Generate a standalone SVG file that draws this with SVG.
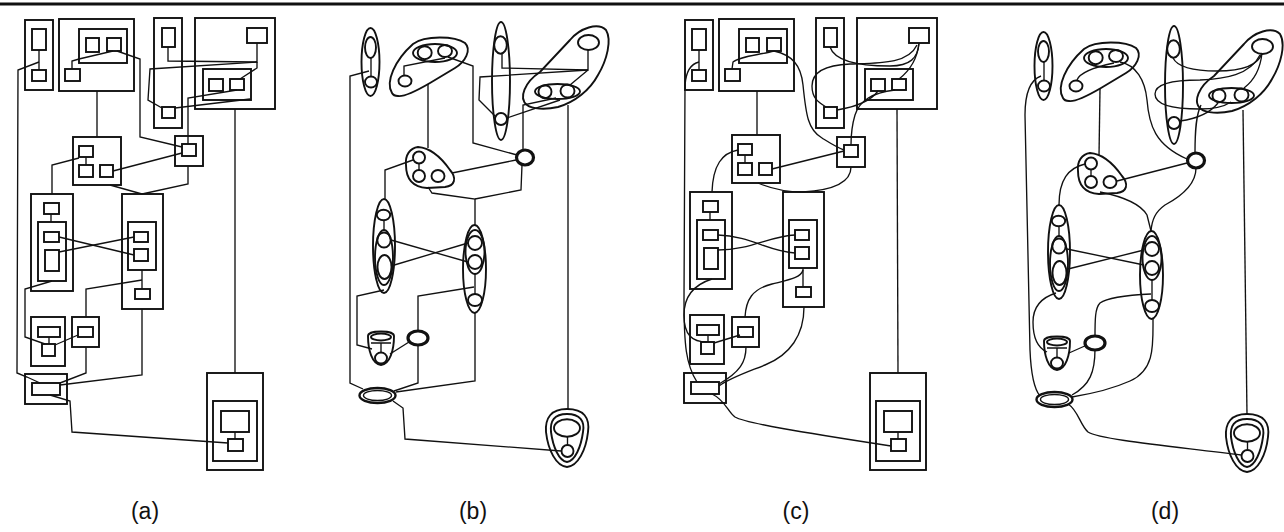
<svg xmlns="http://www.w3.org/2000/svg" width="1284" height="532" viewBox="0 0 1284 532">
<style>
.n{fill:none;stroke:#111;stroke-width:1.9}
.e{fill:none;stroke:#111;stroke-width:1.35}
.k{fill:none;stroke:#111;stroke-width:3.2}
.lab{font-family:"Liberation Sans",Arial,sans-serif;font-size:23px;fill:#111;text-anchor:middle}
</style>
<rect width="1284" height="532" fill="#fff"/>
<line x1="0" y1="4" x2="1284" y2="4" stroke="#111" stroke-width="3"/>

<!-- ================= PANEL A ================= -->
<g id="panel-a">
<g id="a-connectors">
<path class="e" d="M39,62 L18,70 L17,373 L27,377 L40,383"/>
<path class="e" d="M97,91 L97,137"/>
<path class="e" d="M113,51 L79,59 L72,61 L72,69"/>
<path class="e" d="M117,51 L140,59 L140,137 L182,147"/>
<path class="e" d="M168,47 L168,61 L257,62 L257,43"/>
<path class="e" d="M257,62 L150,69 L148,100 L162,108"/>
<path class="e" d="M257,62 L257,68 L240,79"/>
<path class="e" d="M237,90 L188,98 L188,144"/>
<path class="e" d="M175,108 L250,99"/>
<path class="e" d="M79,158 L52,165 L52,194"/>
<path class="e" d="M113,171 L182,153"/>
<path class="e" d="M110,185 L142,194"/>
<path class="e" d="M188,166 L188,184 L142,194"/>
<path class="e" d="M59,237 L134,255"/>
<path class="e" d="M59,252 L134,237"/>
<path class="e" d="M52,281 L25,289 L25,337 L45,344"/>
<path class="e" d="M142,270 L142,289"/>
<path class="e" d="M142,280 L86,289 L86,317"/>
<path class="e" d="M78,335 L55,345"/>
<path class="e" d="M86,347 L86,373 L60,383"/>
<path class="e" d="M142,309 L142,375 L60,385"/>
<path class="e" d="M50,395 L70,401 L72,432 L228,443"/>
<path class="e" d="M235,109 L235,373"/>
</g>
<g id="a1"><rect class="n" x="25" y="20" width="28" height="70"/><rect class="n" x="32" y="29" width="14" height="21"/><rect class="n" x="32" y="70" width="14" height="11"/><line class="e" x1="39" y1="50" x2="39" y2="70"/></g>
<g id="a2"><rect class="n" x="59" y="19" width="75" height="72"/><rect class="n" x="79" y="29" width="48" height="34"/><rect class="n" x="86" y="38" width="13" height="14"/><rect class="n" x="107" y="38" width="14" height="13"/><rect class="n" x="65" y="69" width="15" height="12"/></g>
<g id="a3"><rect class="n" x="154" y="18" width="28" height="110"/><rect class="n" x="162" y="28" width="13" height="19"/><rect class="n" x="162" y="107" width="13" height="11"/></g>
<g id="a4"><rect class="n" x="195" y="18" width="80" height="91"/><rect class="n" x="247" y="28" width="20" height="15"/><rect class="n" x="203" y="69" width="48" height="31"/><rect class="n" x="209" y="79" width="14" height="12"/><rect class="n" x="230" y="79" width="14" height="11"/></g>
<g id="a5"><rect class="n" x="73" y="137" width="48" height="48"/><rect class="n" x="79" y="146" width="14" height="11"/><rect class="n" x="79" y="165" width="14" height="12"/><rect class="n" x="100" y="165" width="13" height="12"/><line class="e" x1="86" y1="157" x2="86" y2="165"/></g>
<g id="a6"><rect class="n" x="175" y="136" width="28" height="30"/><rect class="n" x="182" y="144" width="14" height="12"/></g>
<g id="a7"><rect class="n" x="31" y="194" width="42" height="97"/><rect class="n" x="44" y="203" width="15" height="11"/><rect class="n" x="38" y="222" width="28" height="59"/><rect class="n" x="44" y="232" width="15" height="10"/><rect class="n" x="45" y="250" width="14" height="21"/><line class="e" x1="51" y1="214" x2="51" y2="222"/></g>
<g id="a8"><rect class="n" x="122" y="194" width="41" height="115"/><rect class="n" x="128" y="222" width="28" height="48"/><rect class="n" x="134" y="232" width="14" height="10"/><rect class="n" x="134" y="249" width="14" height="12"/><rect class="n" x="135" y="289" width="15" height="10"/></g>
<g id="a9"><rect class="n" x="31" y="317" width="34" height="49"/><rect class="n" x="38" y="327" width="22" height="10"/><rect class="n" x="42" y="344" width="13" height="12"/><line class="e" x1="49" y1="337" x2="49" y2="344"/></g>
<g id="a10"><rect class="n" x="72" y="317" width="27" height="30"/><rect class="n" x="78" y="327" width="15" height="10"/></g>
<g id="a11"><rect class="n" x="25" y="374" width="42" height="30"/><rect class="n" x="32" y="383" width="28" height="12"/></g>
<g id="a12"><rect class="n" x="207" y="373" width="56" height="97"/><rect class="n" x="213" y="401" width="44" height="60"/><rect class="n" x="221" y="411" width="28" height="21"/><rect class="n" x="228" y="439" width="15" height="12"/><line class="e" x1="235" y1="432" x2="235" y2="439"/></g>
<text class="lab" x="145" y="519">(a)</text>
</g>

<!-- ================= PANEL B ================= -->
<g id="panel-b">
<g id="b-connectors">
<path class="e" d="M369,71 L350,76 L350,383 L363,389"/>
<path class="e" d="M428,84 L428,148"/>
<path class="e" d="M445,58 L404,66 L404,75"/>
<path class="e" d="M448,57 L473,66 L473,143 L517,155"/>
<path class="e" d="M502,54 L502,68 L588,70 L588,50"/>
<path class="e" d="M588,70 L480,77 L479,100 L495,116"/>
<path class="e" d="M588,70 L570,85"/>
<path class="e" d="M556,98 L523,105 L523,150"/>
<path class="e" d="M507,118 L560,100"/>
<path class="e" d="M568,105 L568,409"/>
<path class="e" d="M413,160 L385,170 L385,199"/>
<path class="e" d="M452,173 L516,160"/>
<path class="e" d="M428,187 L432,193 L475,199 L475,225"/>
<path class="e" d="M522,165 L521,190 L475,199"/>
<path class="e" d="M391,240 L468,262"/>
<path class="e" d="M391,266 L468,243"/>
<path class="e" d="M384,290 L357,296 L357,345 L372,349"/>
<path class="e" d="M474,287 L418,296 L418,331"/>
<path class="e" d="M409,342 L390,354"/>
<path class="e" d="M418,345 L418,383 L394,391"/>
<path class="e" d="M475,313 L475,381 L396,392"/>
<path class="e" d="M393,401 L403,408 L405,439 L561,451"/>
</g>
<g id="b1"><ellipse class="n" cx="370.5" cy="62" rx="9" ry="34"/><ellipse class="n" cx="370.5" cy="47.5" rx="5.5" ry="10.5"/><ellipse class="n" cx="371" cy="82" rx="6" ry="5.5"/><line class="e" x1="371" y1="58" x2="371" y2="76.5"/></g>
<g id="b2"><path class="n" d="M392,93 C385,82 395,60 413,44 C425,35 455,36 465,43 C472,50 465,62 455,68 L430,83 C418,90 405,97 398,96 C395,96 393,95 392,93 Z"/><ellipse class="n" cx="435" cy="53" rx="22" ry="9"/><ellipse class="n" cx="424.7" cy="52.7" rx="7" ry="6.5"/><ellipse class="n" cx="445" cy="51" rx="7" ry="6"/><ellipse class="n" cx="405" cy="81" rx="6.5" ry="5.5"/></g>
<g id="b3"><ellipse class="n" cx="501" cy="81" rx="9" ry="59"/><ellipse class="n" cx="500.5" cy="45" rx="6.3" ry="8.7"/><ellipse class="n" cx="501" cy="119" rx="6" ry="6"/></g>
<g id="b4"><path class="n" d="M527,105 C518,98 525,82 540,72 L570,40 C580,28 598,22 606,30 C612,40 607,60 598,75 C590,90 575,102 558,107 C545,110 532,109 527,105 Z"/><ellipse class="n" cx="588.5" cy="42.5" rx="10.5" ry="7.5"/><ellipse class="n" cx="557.5" cy="91.5" rx="22.5" ry="7.5"/><ellipse class="n" cx="545" cy="91.7" rx="6.5" ry="6.5"/><ellipse class="n" cx="567.5" cy="91" rx="7" ry="6.5"/></g>
<g id="b5"><path class="n" d="M418,147 C410,148 405,155 406,165 C406,178 412,187 427,188 L445,187 C455,186 457,178 450,170 C443,160 432,148 418,147 Z"/><ellipse class="n" cx="419" cy="157.5" rx="6" ry="6"/><ellipse class="n" cx="419" cy="176" rx="6" ry="6"/><ellipse class="n" cx="438" cy="176" rx="6.5" ry="6"/><line class="e" x1="419" y1="163.5" x2="419" y2="170"/></g>
<g id="b6"><ellipse class="k" cx="525" cy="157.5" rx="8.5" ry="7.5"/></g>
<g id="b7"><ellipse class="n" cx="384" cy="246" rx="11" ry="47"/><ellipse class="n" cx="384" cy="257.5" rx="9" ry="27.5"/><ellipse class="n" cx="383.5" cy="215" rx="6.7" ry="5.3"/><ellipse class="n" cx="384" cy="240" rx="6.7" ry="7.5"/><ellipse class="n" cx="384.5" cy="267" rx="7" ry="12"/><line class="e" x1="384" y1="220" x2="384" y2="230"/></g>
<g id="b8"><ellipse class="n" cx="474.5" cy="269" rx="11.5" ry="44"/><ellipse class="n" cx="475" cy="252" rx="9.5" ry="22"/><ellipse class="n" cx="475" cy="243" rx="7" ry="7"/><ellipse class="n" cx="475" cy="262" rx="7" ry="7"/><ellipse class="n" cx="475" cy="300" rx="7" ry="6"/><line class="e" x1="475" y1="274" x2="475" y2="294"/></g>
<g id="b9"><path class="n" d="M368,336 C368,330 394,330 394,336 C394,350 390,364 381,365 C372,364 368,350 368,336 Z"/><ellipse class="n" cx="381" cy="337" rx="10" ry="3.5"/><path class="e" d="M371,343 L391,343 M381,343 L381,352"/><ellipse class="n" cx="381" cy="358" rx="6" ry="5.5"/></g>
<g id="b10"><ellipse class="k" cx="418" cy="338" rx="10" ry="7"/></g>
<g id="b11"><ellipse class="n" cx="377.5" cy="395.5" rx="18" ry="7.5" style="stroke-width:2.4"/><ellipse class="n" cx="377.5" cy="395.5" rx="14" ry="5" style="stroke-width:1.4"/></g>
<g id="b12"><path class="n" d="M567,409 C584,409 590,418 588,432 C586,450 578,466 567,467 C556,466 548,450 546,432 C545,418 551,409 567,409 Z"/><path class="n" d="M567,414 C580,414 585,421 583,432 C581,447 575,461 567,462 C559,461 553,447 551,432 C550,421 554,414 567,414 Z"/><ellipse class="n" cx="567" cy="428" rx="13" ry="8.7"/><ellipse class="n" cx="567.5" cy="451" rx="6" ry="6"/><line class="e" x1="567.5" y1="436.7" x2="567.5" y2="445"/></g>
<text class="lab" x="473" y="519">(b)</text>
</g>

<!-- ================= PANEL C ================= -->
<g id="panel-c">
<g id="c-connectors">
<path class="e" d="M699,62 C690,64 686,72 685,85 L684,300 C684,345 686,365 697,382"/>
<path class="e" d="M774,51 C760,55 740,56 733,62 L732,69"/>
<path class="e" d="M774,51 C792,55 801,65 803,85 C806,115 808,130 822,138 C830,143 836,147 844,150"/>
<path class="e" d="M757,91 L757,135"/>
<path class="e" d="M830,47 C835,62 860,66 890,66 C910,66 918,58 919,43"/>
<path class="e" d="M919,43 C917,62 908,72 899,79"/>
<path class="e" d="M917,45 C908,64 880,63 850,64 C825,65 812,72 812,86 C812,98 818,102 826,107"/>
<path class="e" d="M837,110 C855,107 870,102 878,91"/>
<path class="e" d="M895,90 C872,93 860,100 855,115 C852,125 851,135 851,145"/>
<path class="e" d="M738,150 C722,153 713,165 712,192"/>
<path class="e" d="M772,169 L844,151"/>
<path class="e" d="M758,183 C772,189 788,192 803,192"/>
<path class="e" d="M851,167 C851,182 835,190 803,192"/>
<path class="e" d="M718,235 C750,236 770,252 795,253"/>
<path class="e" d="M718,250 C750,250 770,236 795,235"/>
<path class="e" d="M712,279 C693,285 684,297 684,315 C684,335 692,342 707,342"/>
<path class="e" d="M803,268 L803,287"/>
<path class="e" d="M803,270 C801,278 788,280 772,284 C752,289 746,300 745,317"/>
<path class="e" d="M740,335 L714,343"/>
<path class="e" d="M746,347 C746,362 740,372 719,384"/>
<path class="e" d="M804,307 C804,335 790,355 765,365 C745,373 730,378 719,386"/>
<path class="e" d="M712,394 C725,400 728,412 735,417 C745,423 800,432 891,446"/>
<path class="e" d="M897,109 L898,373"/>
</g>
<g id="c1" transform="translate(660,0)"><rect class="n" x="25" y="20" width="28" height="70"/><rect class="n" x="32" y="29" width="14" height="21"/><rect class="n" x="32" y="70" width="14" height="11"/><line class="e" x1="39" y1="50" x2="39" y2="70"/></g>
<g id="c2" transform="translate(660,0)"><rect class="n" x="59" y="19" width="75" height="72"/><rect class="n" x="79" y="29" width="48" height="34"/><rect class="n" x="86" y="38" width="13" height="14"/><rect class="n" x="107" y="38" width="14" height="13"/><rect class="n" x="65" y="69" width="15" height="12"/></g>
<g id="c3" transform="translate(662,0)"><rect class="n" x="154" y="18" width="28" height="110"/><rect class="n" x="162" y="28" width="13" height="19"/><rect class="n" x="162" y="107" width="13" height="11"/></g>
<g id="c4" transform="translate(662,0)"><rect class="n" x="195" y="18" width="80" height="91"/><rect class="n" x="247" y="28" width="20" height="15"/><rect class="n" x="203" y="69" width="48" height="31"/><rect class="n" x="209" y="79" width="14" height="12"/><rect class="n" x="230" y="79" width="14" height="11"/></g>
<g id="c5" transform="translate(659,-2)"><rect class="n" x="73" y="137" width="48" height="48"/><rect class="n" x="79" y="146" width="14" height="11"/><rect class="n" x="79" y="165" width="14" height="12"/><rect class="n" x="100" y="165" width="13" height="12"/><line class="e" x1="86" y1="157" x2="86" y2="165"/></g>
<g id="c6" transform="translate(662,1)"><rect class="n" x="175" y="136" width="28" height="30"/><rect class="n" x="182" y="144" width="14" height="12"/></g>
<g id="c7" transform="translate(659,-2)"><rect class="n" x="31" y="194" width="42" height="97"/><rect class="n" x="44" y="203" width="15" height="11"/><rect class="n" x="38" y="222" width="28" height="59"/><rect class="n" x="44" y="232" width="15" height="10"/><rect class="n" x="45" y="250" width="14" height="21"/><line class="e" x1="51" y1="214" x2="51" y2="222"/></g>
<g id="c8" transform="translate(661,-2)"><rect class="n" x="122" y="194" width="41" height="115"/><rect class="n" x="128" y="222" width="28" height="48"/><rect class="n" x="134" y="232" width="14" height="10"/><rect class="n" x="134" y="249" width="14" height="12"/><rect class="n" x="135" y="289" width="15" height="10"/></g>
<g id="c9" transform="translate(659,-2)"><rect class="n" x="31" y="317" width="34" height="49"/><rect class="n" x="38" y="327" width="22" height="10"/><rect class="n" x="42" y="344" width="13" height="12"/><line class="e" x1="49" y1="337" x2="49" y2="344"/></g>
<g id="c10" transform="translate(660,0)"><rect class="n" x="72" y="317" width="27" height="30"/><rect class="n" x="78" y="327" width="15" height="10"/></g>
<g id="c11" transform="translate(659,-1)"><rect class="n" x="25" y="374" width="42" height="30"/><rect class="n" x="32" y="383" width="28" height="12"/></g>
<g id="c12" transform="translate(663,0)"><rect class="n" x="207" y="373" width="56" height="97"/><rect class="n" x="213" y="401" width="44" height="60"/><rect class="n" x="221" y="411" width="28" height="21"/><rect class="n" x="228" y="439" width="15" height="12"/><line class="e" x1="235" y1="432" x2="235" y2="439"/></g>
<text class="lab" x="796" y="519">(c)</text>
</g>

<!-- ================= PANEL D ================= -->
<g id="panel-d">
<g id="d-connectors">
<path class="e" d="M1041,76 C1030,80 1025,92 1025,115 L1030,350 C1031,375 1035,390 1040,396"/>
<path class="e" d="M1100,89 L1099,156"/>
<path class="e" d="M1114,63 C1095,67 1080,72 1077,80"/>
<path class="e" d="M1120,62 C1136,65 1145,80 1147,100 C1149,125 1155,145 1187,159"/>
<path class="e" d="M1173,58 C1178,68 1195,71 1217,71 C1240,71 1258,66 1262,53"/>
<path class="e" d="M1262,53 C1260,72 1252,82 1244,88"/>
<path class="e" d="M1260,55 C1250,75 1225,79 1200,80 C1175,80 1155,83 1155,94 C1155,104 1170,109 1200,109 C1215,109 1225,106 1231,102"/>
<path class="e" d="M1180,121 C1195,119 1210,113 1218,103"/>
<path class="e" d="M1201,105 C1196,115 1195,130 1195,153"/>
<path class="e" d="M1243,110 L1247,414"/>
<path class="e" d="M1117,181 L1187,163"/>
<path class="e" d="M1085,164 C1068,168 1059,180 1059,205"/>
<path class="e" d="M1100,192 C1120,196 1140,203 1147,215 L1151,231"/>
<path class="e" d="M1196,168 C1196,185 1180,197 1165,205 C1155,212 1152,220 1151,231"/>
<path class="e" d="M1067,249 L1144,265"/>
<path class="e" d="M1068,269 L1144,250"/>
<path class="e" d="M1056,293 C1040,298 1033,308 1033,322 C1033,338 1038,348 1047,352"/>
<path class="e" d="M1151,294 C1130,295 1108,297 1100,303 C1095,308 1095,320 1095,337"/>
<path class="e" d="M1087,345 L1069,353"/>
<path class="e" d="M1095,349 C1095,372 1090,385 1072,395"/>
<path class="e" d="M1153,319 C1153,345 1155,370 1130,381 C1110,390 1090,394 1072,397"/>
<path class="e" d="M1068,404 C1078,410 1080,425 1088,432 C1100,440 1180,447 1241,455"/>
</g>
<g id="d1" transform="translate(673,4)"><ellipse class="n" cx="370.5" cy="62" rx="9" ry="34"/><ellipse class="n" cx="370.5" cy="47.5" rx="5.5" ry="10.5"/><ellipse class="n" cx="371" cy="82" rx="6" ry="5.5"/><line class="e" x1="371" y1="58" x2="371" y2="76.5"/></g>
<g id="d2" transform="translate(671,5)"><path class="n" d="M392,93 C385,82 395,60 413,44 C425,35 455,36 465,43 C472,50 465,62 455,68 L430,83 C418,90 405,97 398,96 C395,96 393,95 392,93 Z"/><ellipse class="n" cx="435" cy="53" rx="22" ry="9"/><ellipse class="n" cx="424.7" cy="52.7" rx="7" ry="6.5"/><ellipse class="n" cx="445" cy="51" rx="7" ry="6"/><ellipse class="n" cx="405" cy="81" rx="6.5" ry="5.5"/></g>
<g id="d3" transform="translate(673,4)"><ellipse class="n" cx="501" cy="81" rx="9" ry="59"/><ellipse class="n" cx="500.5" cy="45" rx="6.3" ry="8.7"/><ellipse class="n" cx="501" cy="119" rx="6" ry="6"/></g>
<g id="d4" transform="translate(674,4)"><path class="n" d="M527,105 C518,98 525,82 540,72 L570,40 C580,28 598,22 606,30 C612,40 607,60 598,75 C590,90 575,102 558,107 C545,110 532,109 527,105 Z"/><ellipse class="n" cx="588.5" cy="42.5" rx="10.5" ry="7.5"/><ellipse class="n" cx="557.5" cy="91.5" rx="22.5" ry="7.5"/><ellipse class="n" cx="545" cy="91.7" rx="6.5" ry="6.5"/><ellipse class="n" cx="567.5" cy="91" rx="7" ry="6.5"/></g>
<g id="d5" transform="translate(672,6)"><path class="n" d="M418,147 C410,148 405,155 406,165 C406,178 412,187 427,188 L445,187 C455,186 457,178 450,170 C443,160 432,148 418,147 Z"/><ellipse class="n" cx="419" cy="157.5" rx="6" ry="6"/><ellipse class="n" cx="419" cy="176" rx="6" ry="6"/><ellipse class="n" cx="438" cy="176" rx="6.5" ry="6"/><line class="e" x1="419" y1="163.5" x2="419" y2="170"/></g>
<g id="d6" transform="translate(671,3)"><ellipse class="k" cx="525" cy="157.5" rx="8.5" ry="7.5"/></g>
<g id="d7" transform="translate(675,6)"><ellipse class="n" cx="384" cy="246" rx="11" ry="47"/><ellipse class="n" cx="384" cy="257.5" rx="9" ry="27.5"/><ellipse class="n" cx="383.5" cy="215" rx="6.7" ry="5.3"/><ellipse class="n" cx="384" cy="240" rx="6.7" ry="7.5"/><ellipse class="n" cx="384.5" cy="267" rx="7" ry="12"/><line class="e" x1="384" y1="220" x2="384" y2="230"/></g>
<g id="d8" transform="translate(677,6)"><ellipse class="n" cx="474.5" cy="269" rx="11.5" ry="44"/><ellipse class="n" cx="475" cy="252" rx="9.5" ry="22"/><ellipse class="n" cx="475" cy="243" rx="7" ry="7"/><ellipse class="n" cx="475" cy="262" rx="7" ry="7"/><ellipse class="n" cx="475" cy="300" rx="7" ry="6"/><line class="e" x1="475" y1="274" x2="475" y2="294"/></g>
<g id="d9" transform="translate(676,5)"><path class="n" d="M368,336 C368,330 394,330 394,336 C394,350 390,364 381,365 C372,364 368,350 368,336 Z"/><ellipse class="n" cx="381" cy="337" rx="10" ry="3.5"/><path class="e" d="M371,343 L391,343 M381,343 L381,352"/><ellipse class="n" cx="381" cy="358" rx="6" ry="5.5"/></g>
<g id="d10" transform="translate(677,5)"><ellipse class="k" cx="418" cy="338" rx="10" ry="7"/></g>
<g id="d11" transform="translate(677,4)"><ellipse class="n" cx="377.5" cy="395.5" rx="18" ry="7.5" style="stroke-width:2.4"/><ellipse class="n" cx="377.5" cy="395.5" rx="14" ry="5" style="stroke-width:1.4"/></g>
<g id="d12" transform="translate(680,5)"><path class="n" d="M567,409 C584,409 590,418 588,432 C586,450 578,466 567,467 C556,466 548,450 546,432 C545,418 551,409 567,409 Z"/><path class="n" d="M567,414 C580,414 585,421 583,432 C581,447 575,461 567,462 C559,461 553,447 551,432 C550,421 554,414 567,414 Z"/><ellipse class="n" cx="567" cy="428" rx="13" ry="8.7"/><ellipse class="n" cx="567.5" cy="451" rx="6" ry="6"/><line class="e" x1="567.5" y1="436.7" x2="567.5" y2="445"/></g>
<text class="lab" x="1165" y="519">(d)</text>
</g>
</svg>
